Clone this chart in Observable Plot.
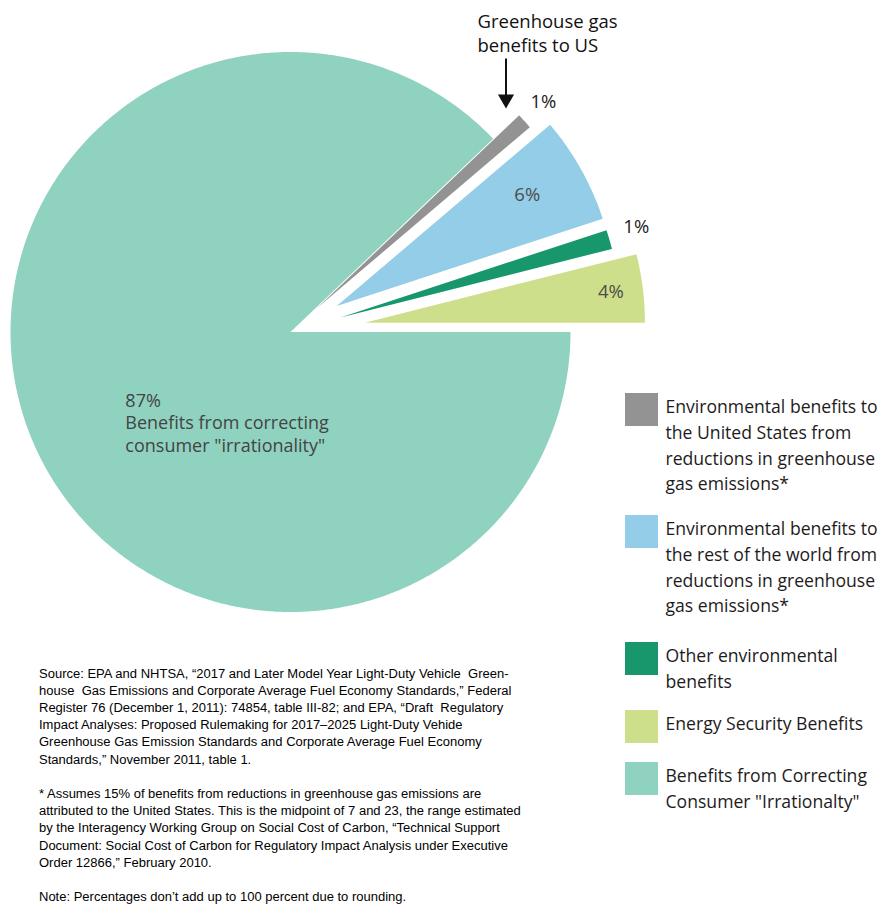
<!DOCTYPE html>
<html>
<head>
<meta charset="utf-8">
<script src="https://cdn.jsdelivr.net/npm/d3@7"></script>
<script src="https://cdn.jsdelivr.net/npm/@observablehq/plot@0.6"></script>
<style>
  body { margin: 0; background: #fff; }
  #chart svg { display: block; }
</style>
</head>
<body>
<div id="chart"></div>
<script>
// ---------------- DATA ----------------
// Slices in drawing order (counter-clockwise from 3 o'clock)
const keys = ["energy", "otherEnv", "ghgWorld", "ghgUS", "irrational"];
const shares = [3.9, 1.1, 6.1, 0.9, 87.0]; // percent of total benefits

// Legend (top to bottom)
const legendKeys = ["ghgUS", "ghgWorld", "otherEnv", "energy", "irrational"];
const legendLabels = [
  "Environmental benefits to\nthe United States from\nreductions in greenhouse\ngas emissions*",
  "Environmental benefits to\nthe rest of the world from\nreductions in greenhouse\ngas emissions*",
  "Other environmental\nbenefits",
  "Energy Security Benefits",
  "Benefits from Correcting\nConsumer \"Irrationalty\""
];

const bigSliceLabel = "Benefits from correcting\nconsumer \"irrationality\"";
const annotationText = "Greenhouse gas\nbenefits to US";

const sourceNote = [
  "Source: EPA and NHTSA, \u201C2017 and Later Model Year Light-Duty Vehicle  Green-",
  "house  Gas Emissions and Corporate Average Fuel Economy Standards,\u201D Federal",
  "Register 76 (December 1, 2011): 74854, table III-82; and EPA, \u201CDraft  Regulatory",
  "Impact Analyses: Proposed Rulemaking for 2017\u20132025 Light-Duty Vehide",
  "Greenhouse Gas Emission Standards and Corporate Average Fuel Economy",
  "Standards,\u201D November 2011, table 1.",
  "",
  "* Assumes 15% of benefits from reductions in greenhouse gas emissions are",
  "attributed to the United States. This is the midpoint of 7 and 23, the range estimated",
  "by the Interagency Working Group on Social Cost of Carbon, \u201CTechnical Support",
  "Document: Social Cost of Carbon for Regulatory Impact Analysis under Executive",
  "Order 12866,\u201D February 2010.",
  "",
  "Note: Percentages don\u2019t add up to 100 percent due to rounding."
];

// ---------------- STYLE / LAYOUT ----------------
const W = 890, H = 907;
const colors = {
  ghgUS: "#939393",
  ghgWorld: "#93cde8",
  otherEnv: "#17976b",
  energy: "#cddf8b",
  irrational: "#8fd2c0"
};
const R = 280, cx = 290, cy = 331.5;
const explode = {energy: 75, otherEnv: 52, ghgWorld: 53, ghgUS: 35, irrational: 0};
// label placement along each slice's bisector (fraction of radius) + nudges
const labelLayout = {
  energy:   {r: 0.885, dx: 0, dy: 0, color: "#4d4d4d"},
  otherEnv: {r: 1.1,  dx: 0, dy: -5, color: "#222"},
  ghgWorld: {r: 0.78, dx: 0, dy: -4, color: "#4d4d4d"},
  ghgUS:    {r: 1.1,  dx: -2, dy: 0, color: "#222"},
  irrational: {r: 0.62, dx: -4, dy: -6, color: "#444"}
};
const legendX = 625, swatch = 33, legendTextX = 665;
const legendTop = [393, 515, 642, 710, 762];
const font = "'Open Sans', Lato, sans-serif";
const noteFont = "'Liberation Sans', Arial, sans-serif";
const noteX = 39, noteWidth = 482, noteBaseline = 675, noteLine = 17.2, noteSize = 13.5;

// ---------------- GEOMETRY ----------------
const data = keys.map((k, i) => ({key: k, share: shares[i]}));
const arcs = d3.pie().sort(null).value(d => d.share)
  .startAngle(Math.PI / 2).endAngle(Math.PI / 2 - 2 * Math.PI)(data);

const pts = [];
const labels = [];
for (const a of arcs) {
  const k = a.data.key;
  const mid = (a.startAngle + a.endAngle) / 2;
  const d = explode[k];
  const ox = cx + d * Math.sin(mid), oy = cy - d * Math.cos(mid);
  pts.push({key: k, x: ox, y: oy});
  const n = Math.max(4, Math.ceil(Math.abs(a.endAngle - a.startAngle) / (Math.PI / 360)));
  for (let i = 0; i <= n; i++) {
    const t = a.startAngle + (a.endAngle - a.startAngle) * i / n;
    pts.push({key: k, x: ox + R * Math.sin(t), y: oy - R * Math.cos(t)});
  }
  const L = labelLayout[k];
  labels.push({
    key: k,
    x: ox + L.r * R * Math.sin(mid) + L.dx,
    y: oy - L.r * R * Math.cos(mid) + L.dy,
    text: Math.round(a.data.share) + "%",
    color: L.color
  });
}
const gray = arcs.find(a => a.data.key === "ghgUS");
const smallLabels = labels.filter(l => l.key !== "irrational");
const big = labels.find(l => l.key === "irrational");

const legendData = legendKeys.map((k, i) => ({key: k, label: legendLabels[i], top: legendTop[i]}));

// Annotation arrow pointing at the US greenhouse-gas slice
const arrow = {x: 505.5, y1: 58, tip: 108};

const chart = Plot.plot({
  width: W, height: H,
  margin: 0,
  x: {domain: [0, W], range: [0, W], axis: null},
  y: {domain: [0, H], range: [0, H], axis: null},
  color: {domain: keys, range: keys.map(k => colors[k])},
  style: {background: "#fff", fontFamily: font},
  marks: [
    // pie slices
    Plot.line(pts, {x: "x", y: "y", z: "key", fill: "key", stroke: "none"}),
    // slice percentages
    Plot.text(smallLabels, {x: "x", y: "y", text: "text", fill: d => d.color, fontSize: 18.5, fontFamily: font, textAnchor: "middle"}),
    Plot.text([big], {x: "x", y: "y", text: d => d.text + "\n" + bigSliceLabel, fill: "#444",
      fontSize: 18, fontFamily: font, textAnchor: "start", lineAnchor: "top", lineHeight: 1.26}),
    // annotation
    Plot.text([annotationText], {x: () => 477, y: () => 10, text: d => d, fontSize: 18.5, fontFamily: font,
      fill: "#111", textAnchor: "start", lineAnchor: "top", lineHeight: 1.3}),
    Plot.link([gray], {x1: () => arrow.x, y1: () => arrow.y1, x2: () => arrow.x, y2: () => arrow.tip - 8,
      stroke: "#111", strokeWidth: 2}),
    Plot.dot([gray], {x: () => arrow.x, y: () => arrow.tip - 9.3, symbol: "triangle", r: 6, rotate: 180, fill: "#111", stroke: "none"}),
    // legend
    Plot.rect(legendData, {x1: () => legendX, x2: () => legendX + swatch, y1: "top", y2: d => d.top + swatch, fill: "key"}),
    Plot.text(legendData, {x: () => legendTextX, y: d => d.top + 1.5, text: "label", fontSize: 17.6, fontFamily: font,
      fill: "#1e1b1c", textAnchor: "start", lineAnchor: "top", lineHeight: 25.7 / 17.6}),
    // notes
    Plot.text([sourceNote.join("\n")], {x: () => noteX, y: () => noteBaseline - 0.71 * noteSize, text: d => d, fontSize: noteSize,
      fontFamily: noteFont, fill: "#000", textAnchor: "start", lineAnchor: "top", lineHeight: noteLine / noteSize,
      className: "notes"})
  ]
});
document.getElementById("chart").append(chart);

// The reference typesets the notes in a condensed face: compress horizontally to its measured width
const noteText = chart.querySelector(".notes text");
if (noteText) {
  let widest = 0;
  noteText.querySelectorAll("tspan").forEach(t => { widest = Math.max(widest, t.getComputedTextLength()); });
  if (widest > 0) {
    const s = noteWidth / widest;
    const g = chart.querySelector("g.notes");
    g.setAttribute("transform", `translate(${noteX},0) scale(${s},1) translate(${-noteX},0)`);
  }
}
</script>
</body>
</html>
